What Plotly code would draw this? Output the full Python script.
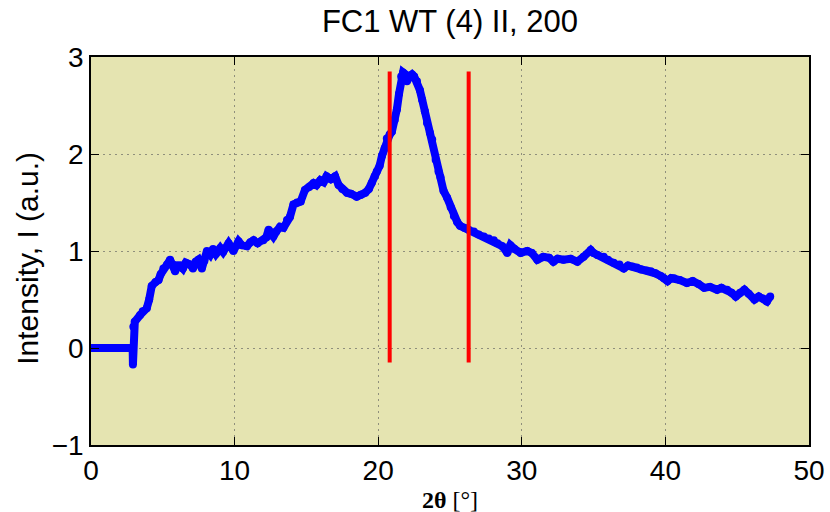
import plotly.graph_objects as go

# Diffraction pattern: 2-theta (degrees) and normalised intensity
two_theta = [0, 1.0, 2.0, 2.85, 2.9, 2.92, 2.95, 3.05, 3.42, 3.6, 3.88, 4.05, 4.23, 4.5, 4.7, 4.85,
             5.04, 5.3, 5.51, 5.7, 5.86, 6.0, 6.21, 6.4, 6.6, 6.9, 7.1, 7.3, 7.48, 7.72, 7.9, 8.07,
             8.3, 8.5, 8.7, 9.0, 9.2, 9.58, 9.92, 10.27, 10.5, 10.86, 11.1, 11.32, 11.6, 12.0, 12.2,
             12.37, 12.7, 12.9, 13.17, 13.4, 13.65, 13.85, 14.1, 14.35, 14.6, 14.9, 15.2, 15.5, 15.7,
             15.97, 16.2, 16.4, 16.7, 17.0, 17.24, 17.5, 17.83, 18.1, 18.5, 18.8, 19.1, 19.35, 19.55,
             19.75, 19.9, 20.1, 20.26, 20.45, 20.6, 20.8, 20.95, 21.15, 21.3, 21.45, 21.6, 21.73, 21.9,
             22.0, 22.2, 22.36, 22.5, 22.7, 22.9, 23.06, 23.25, 23.4, 23.6, 23.76, 24.0, 24.2, 24.34,
             24.55, 24.8, 25.05, 25.27, 25.5, 25.7, 26.0, 26.3, 26.66, 27.0, 27.36, 27.7, 28.05, 28.3,
             28.64, 28.99, 29.2, 29.5, 29.92, 30.38, 30.7, 31.08, 31.5, 31.9, 32.2, 32.5, 32.9, 33.4,
             33.87, 34.3, 34.8, 35.0, 35.26, 35.7, 36.0, 36.4, 36.8, 37.1, 37.4, 37.7, 38.0, 38.3,
             38.7, 38.98, 39.3, 39.7, 39.9, 40.15, 40.4, 40.6, 41.0, 41.5, 41.9, 42.3, 42.7, 43.1,
             43.6, 43.9, 44.3, 44.6, 44.9, 45.2, 45.5, 45.8, 46.2, 46.5, 46.8, 47.07, 47.3]
intensity = [0, 0, 0, 0, 0, -0.17, 0.22, 0.27, 0.34, 0.38, 0.41, 0.5, 0.64, 0.68, 0.70, 0.76,
             0.82, 0.86, 0.91, 0.86, 0.79, 0.85, 0.85, 0.82, 0.88, 0.86, 0.82, 0.89, 0.91, 0.82, 0.9, 1.0,
             0.96, 1.02, 0.97, 1.03, 0.99, 1.08, 1.0, 1.10, 1.06, 1.05, 1.09, 1.11, 1.08, 1.11, 1.14,
             1.22, 1.15, 1.2, 1.25, 1.24, 1.32, 1.35, 1.48, 1.50, 1.51, 1.63, 1.66, 1.70, 1.68,
             1.73, 1.71, 1.77, 1.74, 1.77, 1.68, 1.64, 1.60, 1.59, 1.56, 1.58, 1.60, 1.64, 1.70,
             1.77, 1.82, 1.88, 1.98, 2.06, 2.16, 2.2, 2.23, 2.35, 2.46, 2.62, 2.80, 2.84, 2.82,
             2.75, 2.80, 2.82, 2.80, 2.75, 2.66, 2.56, 2.44, 2.32, 2.22, 2.15, 1.94, 1.82, 1.76,
             1.62, 1.55, 1.45, 1.36, 1.30, 1.26, 1.24, 1.22, 1.20, 1.17, 1.15, 1.13, 1.11, 1.08,
             1.05, 0.98, 1.06, 1.02, 0.98, 1.0, 0.98, 0.91, 0.94, 0.93, 0.89, 0.92, 0.91, 0.92,
             0.89, 0.94, 1.01, 0.98, 0.96, 0.94, 0.91, 0.88, 0.86, 0.82, 0.85, 0.84, 0.83, 0.81,
             0.80, 0.79, 0.77, 0.74, 0.72, 0.69, 0.72, 0.72, 0.70, 0.67, 0.69, 0.66, 0.62, 0.63,
             0.60, 0.62, 0.60, 0.57, 0.53, 0.57, 0.60, 0.56, 0.50, 0.53, 0.51, 0.48, 0.53]

# Integration window markers
window_x = [20.8, 26.3]
window_y = [-0.15, 2.85]

x_ticks = [0, 10, 20, 30, 40, 50]
y_ticks = [-1, 0, 1, 2, 3]

fig = go.Figure()
fig.add_trace(go.Scatter(
    x=two_theta, y=intensity, mode="lines+markers",
    line=dict(color="#0000ff", width=8),
    marker=dict(color="#0000ff", size=8, line=dict(width=0)),
    showlegend=False, hoverinfo="skip",
))
for wx in window_x:
    fig.add_trace(go.Scatter(
        x=[wx, wx], y=window_y, mode="lines",
        line=dict(color="#ff0000", width=4),
        showlegend=False, hoverinfo="skip",
    ))

axis_common = dict(
    showline=True, linecolor="black", linewidth=1.5, mirror="ticks",
    ticks="inside", ticklen=8, tickcolor="black", tickwidth=1,
    showgrid=True, gridcolor="#8f8f7c", gridwidth=1, griddash="2px,4px",
    zeroline=False, automargin=False,
    tickfont=dict(family="Liberation Sans, Arial, sans-serif", size=28, color="black"),
)

fig.update_xaxes(range=[0, 50], tickvals=x_ticks, ticktext=[str(v) for v in x_ticks], **axis_common)
fig.update_yaxes(range=[-1, 3], tickvals=y_ticks, ticktext=["\u22121", "0", "1", "2", "3"], **axis_common)

fig.update_layout(
    width=830, height=512,
    margin=dict(l=91, r=21, t=57, b=67),
    paper_bgcolor="white",
    plot_bgcolor="#e5e4b1",
    title=dict(text="FC1 WT (4) II, 200", x=0.5, xref="paper", xanchor="center",
               y=1 - 21 / 512, yref="container", yanchor="middle",
               font=dict(family="Liberation Sans, Arial, sans-serif", size=31, color="black")),
    annotations=[
        dict(text="<b>2θ</b> [°]", xref="paper", yref="paper", x=0.5, y=-(500 - 445) / 388,
             xanchor="center", yanchor="middle", showarrow=False,
             font=dict(family="Liberation Serif, Times New Roman, serif", size=24, color="black")),
        dict(text="Intensity, I (a.u.)", xref="paper", yref="paper", x=(28 - 91) / 718, y=0.48,
             xanchor="center", yanchor="middle", textangle=-90, showarrow=False,
             font=dict(family="Liberation Sans, Arial, sans-serif", size=30, color="black")),
    ],
)

fig.write_html("out.html")
